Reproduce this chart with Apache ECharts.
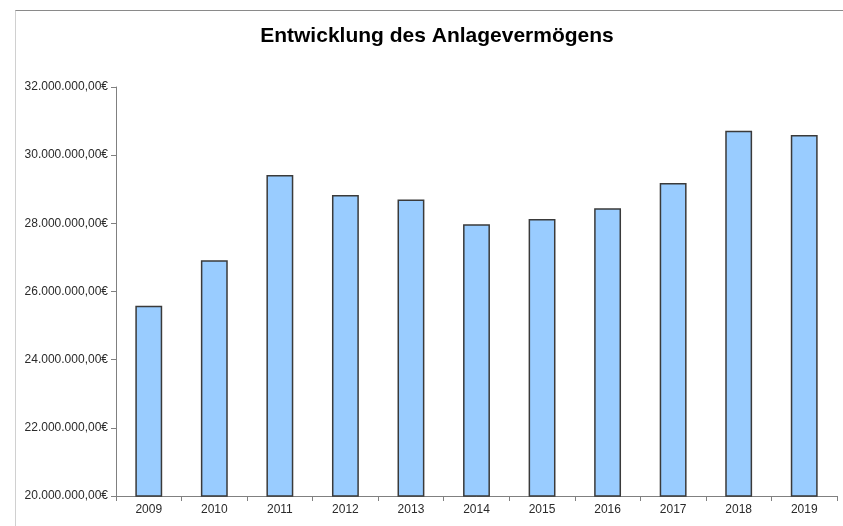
<!DOCTYPE html>
<html>
<head>
<meta charset="utf-8">
<script src="https://cdn.jsdelivr.net/npm/echarts@6/dist/echarts.min.js"></script>
<style>
  html, body { margin: 0; padding: 0; background: #fff; }
  #wrap { position: relative; width: 843px; height: 526px; }
  #chart { width: 843px; height: 526px; }
  .frame {
    position: absolute; left: 15px; top: 10px; right: 0; bottom: 0;
    border-top: 1px solid #8a8a8a; border-left: 1px solid #d0d0d0;
    pointer-events: none;
  }
</style>
</head>
<body>
<div id="wrap">
  <div id="chart"></div>
  <div class="frame"></div>
</div>
<script>
const years = ["2009", "2010", "2011", "2012", "2013", "2014", "2015", "2016", "2017", "2018", "2019"];
const anlagevermoegen = [25580000, 26920000, 29420000, 28830000, 28700000, 27970000, 28130000, 28440000, 29180000, 30720000, 30590000];
const yMin = 20000000;
const yMax = 32000000;
const yStep = 2000000;

// 32000000 -> "32.000.000,00€"
const formatEuro = (v) => {
  const intPart = Math.round(v).toString().replace(/\B(?=(\d{3})+(?!\d))/g, ".");
  return intPart + ",00€";
};

const chart = echarts.init(document.getElementById("chart"));

const option = {
  animation: false,
  title: {
    text: "Entwicklung des Anlagevermögens",
    left: 432,
    top: 21,
    textAlign: "center",
    textStyle: {
      fontFamily: "Liberation Sans, Arial, sans-serif",
      fontSize: 21,
      fontWeight: "bold",
      color: "#000"
    }
  },
  grid: {
    left: 116,
    right: 6,
    top: 87,
    bottom: 30
  },
  xAxis: {
    type: "category",
    data: years,
    axisLine: { lineStyle: { color: "#808080", width: 1 } },
    axisTick: { show: true, length: 5, lineStyle: { color: "#808080" } },
    axisLabel: {
      fontFamily: "Liberation Sans, Arial, sans-serif",
      fontSize: 12,
      color: "#2a2a2a",
      margin: 8
    }
  },
  yAxis: {
    type: "value",
    min: yMin,
    max: yMax,
    interval: yStep,
    axisLine: { show: true, lineStyle: { color: "#808080", width: 1 } },
    axisTick: { show: true, length: 5, lineStyle: { color: "#808080" } },
    splitLine: { show: false },
    axisLabel: {
      fontFamily: "Liberation Sans, Arial, sans-serif",
      fontSize: 12,
      color: "#2a2a2a",
      margin: 8,
      formatter: formatEuro
    }
  },
  series: [
    {
      name: "Anlagevermögen",
      type: "bar",
      data: anlagevermoegen,
      barWidth: "41%",
      itemStyle: {
        color: "#99ccff",
        borderColor: "#3a3a3a",
        borderWidth: 1.5
      }
    }
  ]
};

chart.setOption(option);
</script>
</body>
</html>
